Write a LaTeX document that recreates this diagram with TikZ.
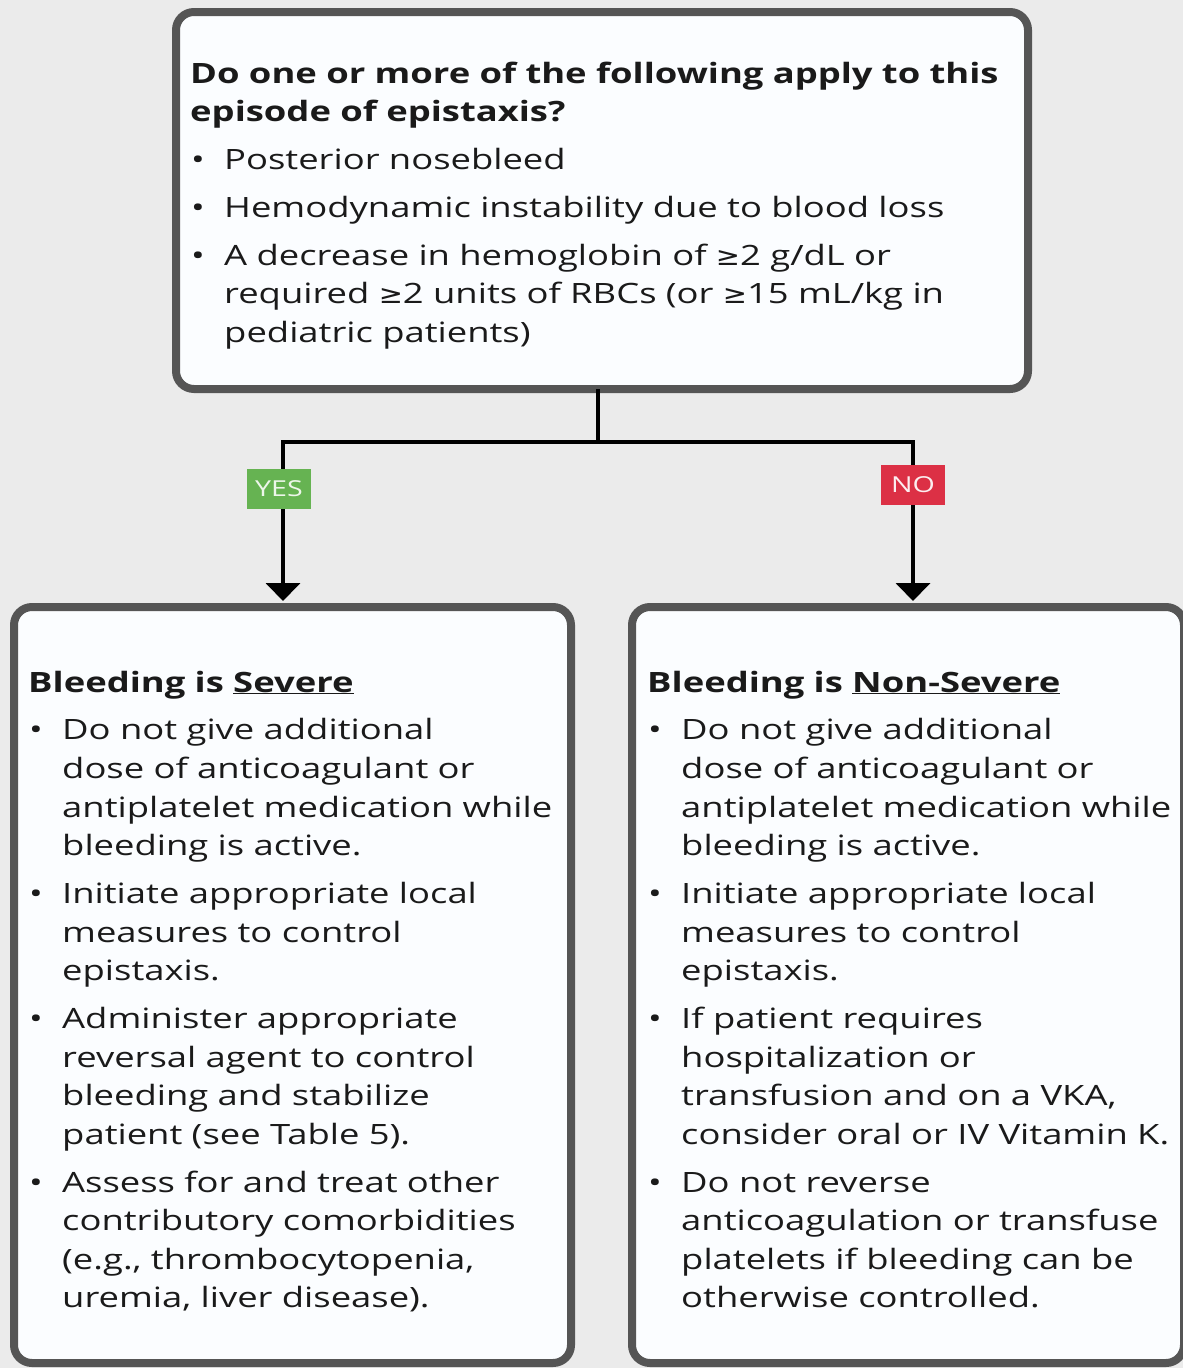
\documentclass[tikz,border=0pt]{standalone}
\usepackage{fontspec}
\setmainfont{Open Sans}[FakeStretch=1.30]
\newfontfamily\symfont{DejaVu Sans}[FakeStretch=1.12, Scale=0.92]
\usetikzlibrary{arrows.meta}
\definecolor{bg}{HTML}{EBEBEB}
\definecolor{frame}{HTML}{555555}
\definecolor{boxfill}{HTML}{FBFDFF}
\definecolor{ink}{HTML}{1A1A1A}
\definecolor{yesgreen}{HTML}{66B352}
\definecolor{nored}{HTML}{DC3045}
\newcommand{\geqsym}{{\symfont ≥}}
\newcommand{\itm}[1]{\par\vspace{9.2pt}\noindent\hangindent=34pt\hangafter=1\makebox[34pt][l]{\hspace{1pt}•}#1\par}
\newcommand{\ttl}[1]{\noindent\textbf{#1}\par}
\begin{document}
\begin{tikzpicture}[x=1pt,y=-1pt,
  box/.style={draw=frame, line width=8pt, fill=boxfill, rounded corners=18pt, inner sep=0pt, outer sep=0pt},
  txt/.style={anchor=base west, inner sep=0pt, text width=#1,
    font=\fontsize{28}{38.6}\selectfont\raggedright, text=ink},
  conn/.style={line width=4pt, draw=black},
  tag/.style={inner sep=0pt, minimum width=64pt, minimum height=40pt,
    font=\fontsize{22}{24}\selectfont}]
\fill[bg] (0,0) rectangle (1183,1368);
\useasboundingbox (0,0) rectangle (1183,1368);

\node[box, minimum width=852pt, minimum height=377pt, anchor=north west] (top) at (176,12) {};
\node[box, minimum width=557pt, minimum height=756pt, anchor=north west] (left) at (14,607) {};
\node[box, minimum width=552pt, minimum height=756pt, anchor=north west] (right) at (632,607) {};

\node[txt=830pt] (toptext) at (190,83) {\ttl{Do one or more of the following apply to this\newline episode of epistaxis?}%
\itm{Posterior nosebleed}%
\itm{Hemodynamic instability due to blood loss}%
\itm{A decrease in hemoglobin of \geqsym2 g/dL or\newline required \geqsym2 units of RBCs (or \geqsym15 mL/kg in\newline pediatric patients)}};

\node[txt=545pt] (lefttext) at (28,692) {\ttl{Bleeding is \underline{Severe}}%
\itm{Do not give additional\newline dose of anticoagulant or\newline antiplatelet medication while\newline bleeding is active.}%
\itm{Initiate appropriate local\newline measures to control\newline epistaxis.}%
\itm{Administer appropriate\newline reversal agent to control\newline bleeding and stabilize\newline patient (see Table 5).}%
\itm{Assess for and treat other\newline contributory comorbidities\newline (e.g., thrombocytopenia,\newline uremia, liver disease).}};

\node[txt=545pt] (righttext) at (647,692) {\ttl{Bleeding is \underline{Non-Severe}}%
\itm{Do not give additional\newline dose of anticoagulant or\newline antiplatelet medication while\newline bleeding is active.}%
\itm{Initiate appropriate local\newline measures to control\newline epistaxis.}%
\itm{If patient requires\newline hospitalization or\newline transfusion and on a VKA,\newline consider oral or IV Vitamin K.}%
\itm{Do not reverse\newline anticoagulation or transfuse\newline platelets if bleeding can be\newline otherwise controlled.}};

\coordinate (split) at (598,442);
\coordinate (lt) at (283,601);
\coordinate (rt) at (913,601);
\draw[conn] (split |- top.south) -- (split);
\draw[conn, -{Triangle[width=34pt,length=18pt]}] (split) -| (lt);
\draw[conn, -{Triangle[width=34pt,length=18pt]}] (split) -| (rt);

\node[tag, fill=yesgreen, text=white!88!yesgreen] (yes) at (279,489) {YES};
\node[tag, fill=nored, text=white!92!nored] (no) at (913,485) {NO};
\end{tikzpicture}
\end{document}
